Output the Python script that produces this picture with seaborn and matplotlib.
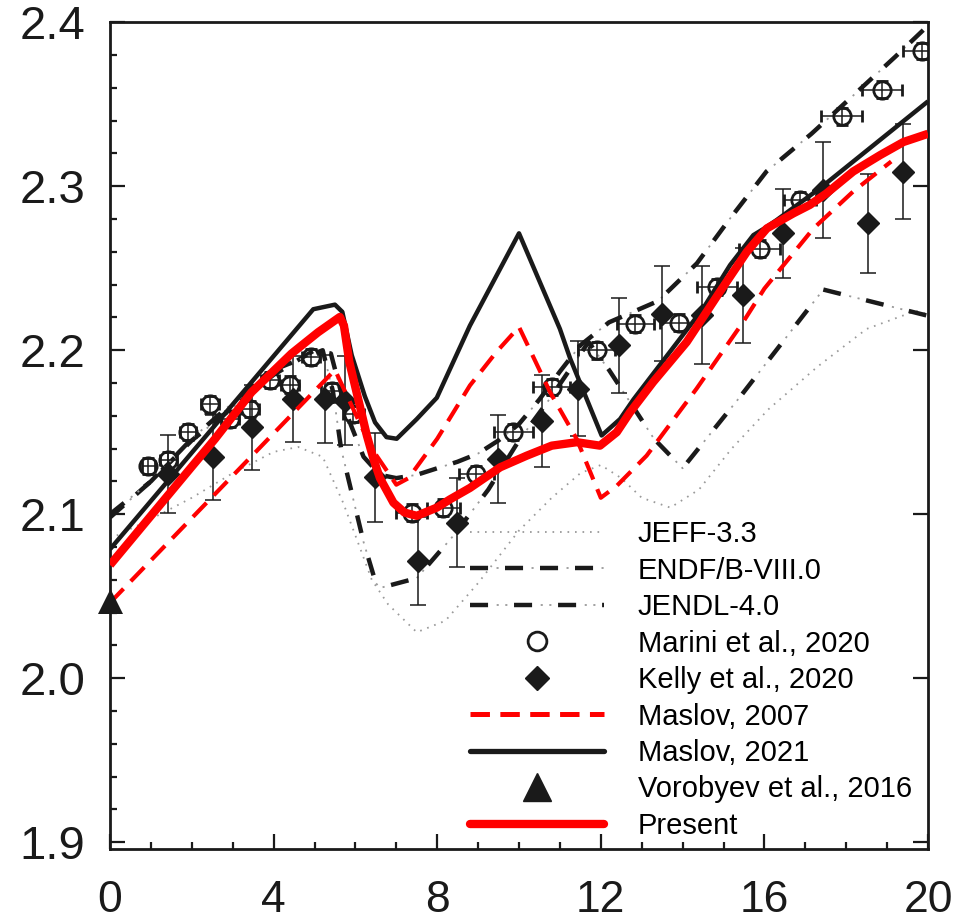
import matplotlib
matplotlib.use("Agg")
import numpy as np
import pandas as pd
import seaborn as sns
import matplotlib.pyplot as plt
from matplotlib.lines import Line2D
from matplotlib.ticker import MultipleLocator, FormatStrFormatter

# ---------------- data ----------------
present_x = [0, 1, 2, 2.57, 3.46, 4.44, 5.09, 5.62, 5.72, 5.85, 6.07, 6.28, 6.45, 6.6, 6.93, 7.2, 7.5,
             7.99, 8.31, 8.8, 9.54, 10.19, 10.8, 11.41, 11.98, 12.39, 12.71, 13.28, 14.1, 14.91, 15.57,
             16.06, 16.71, 17.11, 17.52, 18.17, 18.83, 19.4, 20]
present_y = [2.069, 2.099, 2.129, 2.146, 2.1744, 2.198, 2.211, 2.2203, 2.215, 2.193, 2.17, 2.148, 2.133,
             2.122, 2.107, 2.101, 2.099, 2.104, 2.109, 2.116, 2.1286, 2.1357, 2.1418, 2.1439, 2.1418, 2.15,
             2.162, 2.1806, 2.205, 2.2356, 2.26, 2.2743, 2.2835, 2.2886, 2.2957, 2.309, 2.319, 2.327, 2.332]

maslov21_x = [0, 4.97, 5.5, 5.68, 5.91, 6.23, 6.48, 6.76, 7.01, 7.5, 7.99, 8.8, 10.0, 11.0, 11.25, 12.02,
              12.47, 12.8, 14.5, 15.16, 15.73, 16.0, 16.3, 17.36, 20]
maslov21_y = [2.0786, 2.225, 2.2278, 2.2234, 2.197, 2.172, 2.156, 2.147, 2.146, 2.158, 2.171, 2.215, 2.2713,
              2.213, 2.195, 2.148, 2.158, 2.170, 2.2254, 2.2519, 2.2702, 2.2743, 2.2794, 2.2988, 2.3518]

maslov07_x = [0, 5.5, 6.4, 7.0, 7.3, 8.0, 8.8, 9.45, 10.0, 10.76, 11.41, 12.0, 12.39, 13.12, 14.34, 15.48,
              16.0, 17.2, 18.17, 19.1]
maslov07_y = [2.046, 2.188, 2.14, 2.118, 2.122, 2.146, 2.1785, 2.199, 2.2142, 2.1744, 2.1459, 2.11, 2.1173,
              2.1357, 2.1765, 2.2172, 2.2376, 2.2743, 2.2968, 2.3151]

jeff_x = [0, 1, 2, 3, 4, 4.6, 5.2, 5.7, 6.0, 6.4, 6.8, 7.5, 8.2, 9.0, 10.0, 10.8, 11.5, 12.0, 12.5, 13.0,
          13.7, 14.4, 15.2, 16.1, 17.3, 18.5, 19.7, 20]
jeff_y = [2.085, 2.097, 2.11, 2.125, 2.138, 2.141, 2.135, 2.107, 2.087, 2.06, 2.045, 2.028, 2.035, 2.058,
          2.09, 2.11, 2.125, 2.13, 2.122, 2.11, 2.104, 2.115, 2.14, 2.164, 2.19, 2.213, 2.224, 2.222]

endf_x = [0, 1, 2, 3, 4, 5.0, 5.4, 5.8, 6.2, 6.6, 7.0, 7.5, 8.0, 8.5, 9.0, 9.5, 10.0, 10.5, 11.0, 11.5,
          12.2, 13.4, 14.35, 15.15, 16.05, 17.15, 18.2, 19.2, 20]
endf_y = [2.098, 2.12, 2.145, 2.165, 2.185, 2.2, 2.198, 2.16, 2.135, 2.124, 2.122, 2.124, 2.128, 2.132,
          2.137, 2.145, 2.155, 2.17, 2.187, 2.203, 2.217, 2.23, 2.253, 2.28, 2.309, 2.332, 2.356, 2.379, 2.398]

jendl_x = [0, 1, 2, 3, 4, 5.2, 5.45, 5.65, 6.2, 6.5, 6.6, 7.5, 8.4, 9.25, 10.0, 10.8, 11.7, 12.2, 13.3,
           14.0, 15.45, 17.44, 20]
jendl_y = [2.1, 2.12, 2.146, 2.168, 2.188, 2.2, 2.175, 2.14, 2.083, 2.058, 2.055, 2.061, 2.087, 2.115,
           2.145, 2.172, 2.205, 2.188, 2.146, 2.128, 2.173, 2.237, 2.221]

marini_x = [0.94, 1.43, 1.91, 2.44, 2.93, 3.42, 3.91, 4.40, 4.91, 5.42, 5.95, 7.38, 8.15, 8.96, 9.86,
            10.80, 11.90, 12.84, 13.90, 14.83, 15.89, 16.87, 17.89, 18.87, 19.85]
marini_y = [2.1295, 2.1332, 2.150, 2.1669, 2.158, 2.164, 2.182, 2.179, 2.196, 2.175, 2.161, 2.101, 2.104,
            2.1245, 2.1503, 2.1775, 2.1999, 2.2162, 2.2168, 2.2387, 2.262, 2.2916, 2.3426, 2.3589, 2.3824]
marini_xerr = [0.15, 0.2, 0.2, 0.22, 0.22, 0.22, 0.22, 0.22, 0.22, 0.25, 0.25, 0.38, 0.4, 0.42, 0.48,
               0.45, 0.45, 0.45, 0.45, 0.49, 0.5, 0.4, 0.5, 0.49, 0.45]
marini_yerr = [0.005] * 25

kelly_x = [1.43, 2.53, 3.46, 4.48, 5.26, 5.75, 6.48, 7.54, 8.48, 9.49, 10.56, 11.45, 12.45, 13.49, 14.47,
           15.48, 16.46, 17.44, 18.54, 19.40]
kelly_y = [2.1245, 2.1347, 2.153, 2.1703, 2.1703, 2.1693, 2.1224, 2.0715, 2.0949, 2.1336, 2.157, 2.1765,
           2.2029, 2.2223, 2.2213, 2.2335, 2.2713, 2.2977, 2.2774, 2.309]
kelly_yerr = [0.024, 0.026, 0.026, 0.026, 0.027, 0.027, 0.027, 0.027, 0.027, 0.027, 0.028, 0.029, 0.029,
              0.029, 0.030, 0.029, 0.027, 0.029, 0.030, 0.029]

vorobyev_x = [0.0]
vorobyev_y = [2.047]

labels = ["JEFF-3.3", "ENDF/B-VIII.0", "JENDL-4.0", "Marini et al., 2020", "Kelly et al., 2020",
          "Maslov, 2007", "Maslov, 2021", "Vorobyev et al., 2016", "Present"]

# ---------------- style ----------------
sns.set_theme(style="ticks")
plt.rcParams['font.family'] = ['Liberation Sans', 'DejaVu Sans']
plt.rcParams['lines.scale_dashes'] = False
plt.rcParams['text.color'] = 'black'
plt.rcParams['xtick.color'] = 'black'
plt.rcParams['ytick.color'] = 'black'
plt.rcParams['axes.edgecolor'] = 'black'

fig = plt.figure(figsize=(9.61, 9.23), dpi=100)
ax = fig.add_axes([110 / 961, 1 - 849 / 923, 818 / 961, (849 - 22.3) / 923])

GRAY = '#9a9a9a'
DOT = (0, (1.2, 4.2))
ENDF_DASH = (0, (13, 12.2))
ENDF_DOT = (6.1, (1.5, 23.7))
JENDL_DASH = (0, (13, 18.7))
JENDL_DOT = (12.5, (1.5, 4.7, 1.5, 24.0))
RED_DASH = (0, (14, 7.5))


def line(x, y, **kw):
    sns.lineplot(x=x, y=y, ax=ax, estimator=None, sort=False, legend=False,
                 solid_joinstyle='round', solid_capstyle='butt', **kw)


# evaluated data
line(jeff_x, jeff_y, color=GRAY, lw=1.3, linestyle=DOT, zorder=2)
line(endf_x, endf_y, color=GRAY, lw=1.3, linestyle=ENDF_DOT, zorder=2)
line(endf_x, endf_y, color='k', lw=3.2, linestyle=ENDF_DASH, zorder=2)
line(jendl_x, jendl_y, color=GRAY, lw=1.3, linestyle=JENDL_DOT, zorder=2)
line(jendl_x, jendl_y, color='k', lw=3.2, linestyle=JENDL_DASH, zorder=2)

# experiments
ax.errorbar(marini_x, marini_y, xerr=marini_xerr, yerr=marini_yerr, fmt='o', mfc='none', mec='k',
            ms=12.5, mew=2, ecolor='k', elinewidth=1.1, capsize=4.5, capthick=1.1, zorder=3)
ax.errorbar(kelly_x, kelly_y, yerr=kelly_yerr, fmt='D', color='k', ms=11.5, ecolor='k',
            elinewidth=1.1, capsize=5.5, capthick=1.1, zorder=3)

# models
line(maslov07_x, maslov07_y, color='#ff0000', lw=3.0, linestyle=RED_DASH, zorder=4)
line(maslov21_x, maslov21_y, color='k', lw=3.2, linestyle='-', zorder=5)
line(present_x, present_y, color='#ff0000', lw=6.0, linestyle='-', zorder=6)

sns.scatterplot(x=vorobyev_x, y=vorobyev_y, ax=ax, marker='^', s=18 ** 2, color='k', edgecolor='k',
                linewidth=0, clip_on=False, zorder=7, legend=False)

# ---------------- axes ----------------
ax.set_xlim(0, 20)
ax.set_ylim(1.8958, 2.4)
ax.xaxis.set_major_locator(MultipleLocator(4))
ax.xaxis.set_minor_locator(MultipleLocator(1))
ax.yaxis.set_major_locator(MultipleLocator(0.1))
ax.yaxis.set_minor_locator(MultipleLocator(0.02))
ax.yaxis.set_major_formatter(FormatStrFormatter('%.1f'))
ax.tick_params(which='both', direction='in', width=1.6, colors='k', top=False, right=True)
ax.tick_params(which='major', length=10.5)
ax.tick_params(which='minor', length=5)
ax.tick_params(axis='y', which='minor', right=False)
ax.tick_params(axis='x', which='major', pad=22, labelsize=32)
ax.tick_params(axis='y', which='major', pad=18, labelsize=34)
for sp in ax.spines.values():
    sp.set_linewidth(2.0)
    sp.set_color('k')
    sp.set_visible(True)
ax.set_xlabel('')
ax.set_ylabel('')

# ---------------- legend ----------------
h_jeff = Line2D([], [], color=GRAY, lw=1.3, linestyle=DOT)
h_endf = (Line2D([], [], color=GRAY, lw=1.3, linestyle=ENDF_DOT),
          Line2D([], [], color='k', lw=3.2, linestyle=ENDF_DASH))
h_jendl = (Line2D([], [], color=GRAY, lw=1.3, linestyle=JENDL_DOT),
           Line2D([], [], color='k', lw=3.2, linestyle=JENDL_DASH))
h_marini = Line2D([], [], marker='o', ls='none', mfc='none', mec='k', ms=13.5, mew=2)
h_kelly = Line2D([], [], marker='D', ls='none', color='k', ms=12)
h_m07 = Line2D([], [], color='#ff0000', lw=3.6, linestyle=RED_DASH)
h_m21 = Line2D([], [], color='k', lw=3.8)
h_vor = Line2D([], [], marker='^', ls='none', color='k', ms=20)
h_pre = Line2D([], [], color='#ff0000', lw=6.0)

ax.legend([h_jeff, h_endf, h_jendl, h_marini, h_kelly, h_m07, h_m21, h_vor, h_pre], labels,
          loc='lower left', bbox_to_anchor=(0.44, 0.011), frameon=False, fontsize=21,
          handlelength=4.6, handletextpad=1.15, labelspacing=0.29, borderpad=0, borderaxespad=0,
          labelcolor='black')

fig.savefig('out.png', dpi=100)
